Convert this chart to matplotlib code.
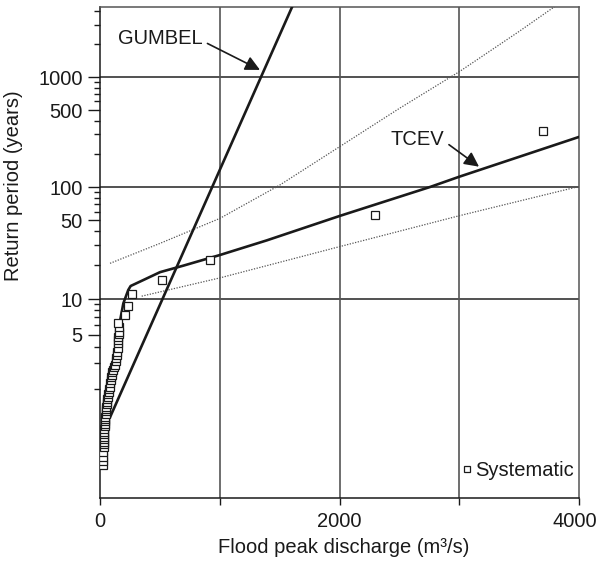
import matplotlib
matplotlib.use('Agg')
import matplotlib.pyplot as plt
import matplotlib.transforms as mtransforms
import numpy as np
from matplotlib.ticker import FixedLocator, FixedFormatter, NullFormatter

plt.rcParams['font.family'] = ['Liberation Sans', 'DejaVu Sans']

# systematic record (discharge m3/s, plotted return period in years)
sys_q = [28, 26, 28, 29, 31, 30, 33, 30, 33, 34,
         36, 36, 38, 42, 39, 42, 44, 48, 46, 50,
         53, 56, 58, 61, 65, 69, 72, 75, 80, 84,
         88, 92, 98, 103, 112, 120, 125, 131, 135, 139,
         145, 147, 150, 153, 153, 156, 159, 160, 153, 209,
         236, 265, 518, 918, 2296, 3700]
sys_T = [1.034, 1.045, 1.06, 1.08, 1.108, 1.125, 1.14, 1.16, 1.18, 1.20,
         1.22, 1.25, 1.28, 1.31, 1.34, 1.37, 1.41, 1.45, 1.49, 1.53,
         1.58, 1.63, 1.68, 1.73, 1.79, 1.85, 1.92, 2.0, 2.07, 2.17,
         2.29, 2.38, 2.48, 2.58, 2.69, 2.8, 2.92, 3.1, 3.27, 3.45,
         3.68, 3.95, 4.28, 4.55, 4.84, 5.05, 5.31, 5.8, 6.23, 7.31,
         8.73, 11.07, 14.7, 22.1, 55.9, 322]

# fitted distributions
tcev_q = [20, 28, 42, 69, 111, 153, 195, 236, 256, 376, 501, 700, 1000,
          1392, 2000, 2755, 3000, 4000]
tcev_T = [1.07, 1.18, 1.36, 1.645, 2.84, 5.49, 9.2, 12.0, 13.0, 14.9, 17.2,
          19.7, 24.4, 33.0, 54.7, 100, 124, 285]
gumbel_q = [84, 1629]
gumbel_T = [1.40, 5000]
upper_q = [84, 500, 1000, 1500, 2000, 2500, 3000, 3500, 3800]
upper_T = [20.6, 31, 52, 104, 232, 518, 1117, 2600, 4400]
lower_q = [348, 1000, 2000, 3000, 3981]
lower_T = [10.6, 15.3, 29.0, 55, 100]

major_T = [5, 10, 50, 100, 500, 1000]
minor_T = [2, 3, 4, 6, 7, 8, 9, 20, 30, 40, 60, 70, 80, 90, 200, 300, 400,
           600, 700, 800, 900, 2000, 3000, 4000]
grid_T = [10, 100, 1000]
grid_q = [1000, 2000, 3000]
x_ticks = [0, 1000, 2000, 3000, 4000]
x_labels = ['0', '', '2000', '', '4000']


def gumbel_fwd(T):
    T = np.asarray(T, dtype=float)
    with np.errstate(all='ignore'):
        p = 1 - 1 / np.clip(T, 1 + 1e-9, None)
        return -np.log(-np.log(p))


def gumbel_inv(y):
    y = np.asarray(y, dtype=float)
    return 1 / (-np.expm1(-np.exp(-y)))


fig = plt.figure(figsize=(5.98, 5.62), dpi=100)
ax = fig.add_axes([100 / 598, 1 - 498 / 562, 479 / 598, 491 / 562])
ax.set_yscale('function', functions=(gumbel_fwd, gumbel_inv))
ax.set_xlim(0, 4000)
ax.set_ylim(gumbel_inv(-1.92), gumbel_inv(8.375))

ink = '#1a1a1a'
for t in grid_T:
    ax.axhline(t, color='#333333', lw=1.2, zorder=1)
for q in grid_q:
    ax.axvline(q, color='#555555', lw=1.2, zorder=1)

ax.plot(upper_q, upper_T, color='#555555', lw=0.9, ls=(0, (1, 1.2)), zorder=2)
ax.plot(lower_q, lower_T, color='#555555', lw=0.9, ls=(0, (1, 1.2)), zorder=2)
ax.plot(gumbel_q, gumbel_T, color=ink, lw=1.9, zorder=3)
ax.plot(tcev_q, tcev_T, color=ink, lw=1.9, zorder=3)
ax.plot(sys_q, sys_T, ls='none', marker='s', ms=6, mfc='white', mec=ink,
        mew=0.9, zorder=4, label='Systematic')

ax.set_xlim(0, 4000)
ax.set_ylim(gumbel_inv(-1.92), gumbel_inv(8.375))

ax.yaxis.set_major_locator(FixedLocator(major_T))
ax.yaxis.set_major_formatter(FixedFormatter([str(t) for t in major_T]))
ax.yaxis.set_minor_locator(FixedLocator(minor_T))
ax.yaxis.set_minor_formatter(NullFormatter())
ax.xaxis.set_major_locator(FixedLocator(x_ticks))
ax.xaxis.set_major_formatter(FixedFormatter(x_labels))
ax.xaxis.set_minor_locator(FixedLocator([]))

ax.tick_params(axis='y', which='major', length=8.5, width=1, pad=4,
               labelsize=14.5, colors=ink)
ax.tick_params(axis='y', which='minor', length=4.5, width=1, colors=ink)
ax.tick_params(axis='x', which='major', length=5, width=1, pad=5,
               labelsize=14.5, colors=ink)
for s in ax.spines.values():
    s.set_color(ink)
    s.set_linewidth(1.1)
ax.spines['top'].set_color('#555555')
ax.spines['right'].set_color('#555555')

# keep the last x label inside the canvas
last = ax.get_xticklabels()[-1]
last.set_transform(last.get_transform() +
                   mtransforms.ScaledTranslation(-4 / 100, 0, fig.dpi_scale_trans))

ax.set_ylabel('Return period (years)', fontsize=14.5, color=ink)
ax.yaxis.set_label_coords(-0.161, 0.637)
ax.set_xlabel('Flood peak discharge (m³/s)', fontsize=14.5, color=ink)
ax.xaxis.set_label_coords(0.509, -0.082)

arrow = dict(arrowstyle='-|>', color=ink, lw=1.2, mutation_scale=22,
             shrinkA=2, shrinkB=0, relpos=(1, 0.4))
ax.annotate('GUMBEL', xy=(1336, 1160), xytext=(0.125, 0.935),
            textcoords='axes fraction', ha='center', va='center',
            fontsize=14.5, color=ink, arrowprops=arrow)
ax.annotate('TCEV', xy=(3165, 153), xytext=(0.662, 0.731),
            textcoords='axes fraction', ha='center', va='center',
            fontsize=14.5, color=ink, arrowprops=arrow)

ax.legend(loc='lower right', bbox_to_anchor=(1.01, 0.017), frameon=False,
          fontsize=14.5, handlelength=0.5, handletextpad=0.15,
          borderaxespad=0.1, markerscale=0.8, labelcolor=ink)

fig.savefig('out.png', dpi=100)
